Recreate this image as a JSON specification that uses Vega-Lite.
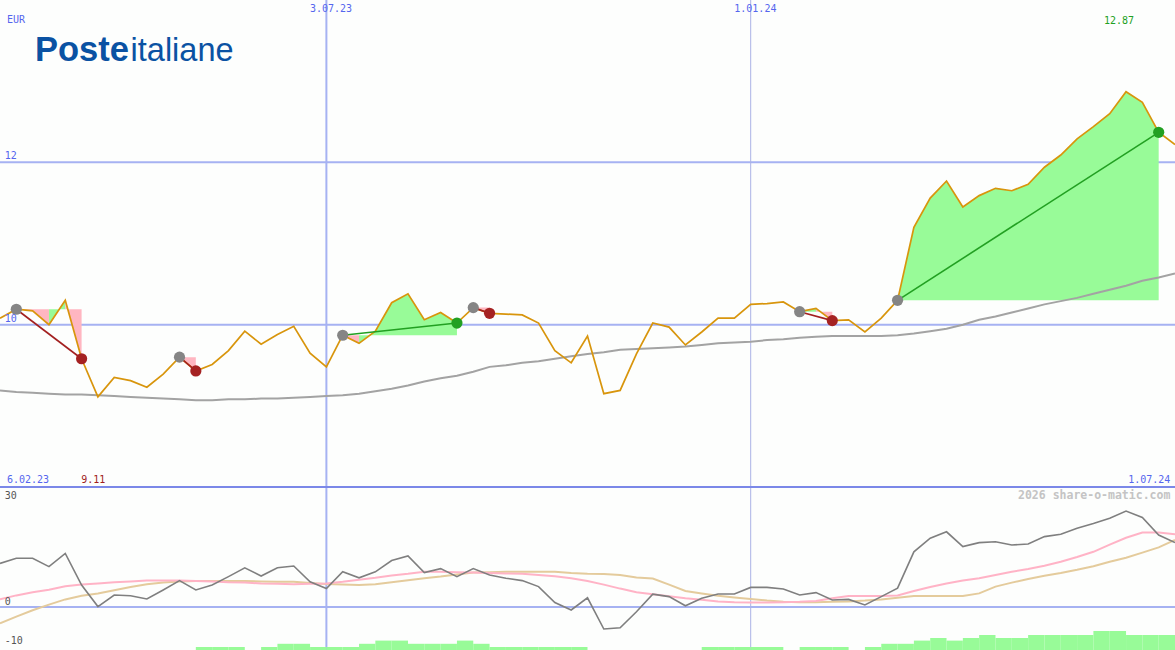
{
  "$schema": "https://vega.github.io/schema/vega-lite/v6.json",
  "background": "#fdfefd",
  "padding": 0,
  "autosize": {"type": "none"},
  "width": 1175,
  "height": 650,
  "config": {"view": {"stroke": null}},
  "resolve": {"scale": {"y": "independent"}},
  "datasets": {
    "prices": [
      {"d":"2023-02-13","p":10.08,"ma":9.19,"o":10.9,"k":1.9,"t":-4.1},
      {"d":"2023-02-20","p":10.19,"ma":9.17,"o":12.2,"k":2.9,"t":-2.4},
      {"d":"2023-02-27","p":10.17,"ma":9.16,"o":12.2,"k":3.7,"t":-0.8},
      {"d":"2023-03-06","p":10.00,"ma":9.15,"o":10.1,"k":4.3,"t":0.6},
      {"d":"2023-03-13","p":10.30,"ma":9.14,"o":13.4,"k":5.2,"t":1.9},
      {"d":"2023-03-20","p":9.58,"ma":9.14,"o":5.5,"k":5.6,"t":2.8},
      {"d":"2023-03-27","p":9.11,"ma":9.13,"o":0.1,"k":5.9,"t":3.4},
      {"d":"2023-04-03","p":9.35,"ma":9.12,"o":3.0,"k":6.2,"t":4.2},
      {"d":"2023-04-10","p":9.31,"ma":9.11,"o":2.8,"k":6.4,"t":5.0},
      {"d":"2023-04-17","p":9.23,"ma":9.10,"o":2.0,"k":6.6,"t":5.7},
      {"d":"2023-04-24","p":9.39,"ma":9.09,"o":4.25,"k":6.6,"t":6.1},
      {"d":"2023-05-01","p":9.60,"ma":9.08,"o":6.6,"k":6.6,"t":6.4},
      {"d":"2023-05-08","p":9.43,"ma":9.07,"o":4.25,"k":6.5,"t":6.5},
      {"d":"2023-05-15","p":9.51,"ma":9.07,"o":5.5,"k":6.4,"t":6.5},
      {"d":"2023-05-22","p":9.68,"ma":9.08,"o":7.6,"k":6.2,"t":6.5},
      {"d":"2023-05-29","p":9.92,"ma":9.08,"o":9.8,"k":6.1,"t":6.5},
      {"d":"2023-06-05","p":9.76,"ma":9.09,"o":7.75,"k":5.9,"t":6.4},
      {"d":"2023-06-12","p":9.88,"ma":9.09,"o":9.8,"k":5.8,"t":6.3},
      {"d":"2023-06-19","p":9.98,"ma":9.10,"o":10.25,"k":5.7,"t":6.3},
      {"d":"2023-06-26","p":9.65,"ma":9.11,"o":6.3,"k":5.8,"t":6.0},
      {"d":"2023-07-03","p":9.48,"ma":9.12,"o":4.6,"k":5.9,"t":5.75},
      {"d":"2023-07-10","p":9.87,"ma":9.13,"o":8.8,"k":6.3,"t":5.6},
      {"d":"2023-07-17","p":9.77,"ma":9.15,"o":7.3,"k":6.8,"t":5.5},
      {"d":"2023-07-24","p":9.92,"ma":9.18,"o":8.8,"k":7.3,"t":5.7},
      {"d":"2023-07-31","p":10.27,"ma":9.21,"o":11.6,"k":7.9,"t":6.2},
      {"d":"2023-08-07","p":10.38,"ma":9.25,"o":12.75,"k":8.3,"t":6.7},
      {"d":"2023-08-14","p":10.06,"ma":9.30,"o":8.6,"k":8.8,"t":7.2},
      {"d":"2023-08-21","p":10.15,"ma":9.34,"o":9.6,"k":8.8,"t":7.6},
      {"d":"2023-08-28","p":10.02,"ma":9.37,"o":7.6,"k":8.7,"t":8.1},
      {"d":"2023-09-04","p":10.21,"ma":9.42,"o":9.6,"k":8.6,"t":8.6},
      {"d":"2023-09-11","p":10.14,"ma":9.48,"o":8.0,"k":8.5,"t":8.7},
      {"d":"2023-09-18","p":10.13,"ma":9.50,"o":7.2,"k":8.4,"t":8.8},
      {"d":"2023-09-25","p":10.12,"ma":9.53,"o":6.6,"k":8.3,"t":8.8},
      {"d":"2023-10-02","p":10.02,"ma":9.55,"o":5.1,"k":8.0,"t":8.8},
      {"d":"2023-10-09","p":9.68,"ma":9.58,"o":1.1,"k":7.7,"t":8.8},
      {"d":"2023-10-16","p":9.53,"ma":9.61,"o":-0.75,"k":7.2,"t":8.5},
      {"d":"2023-10-23","p":9.86,"ma":9.64,"o":2.3,"k":6.5,"t":8.3},
      {"d":"2023-10-30","p":9.15,"ma":9.66,"o":-5.5,"k":5.6,"t":8.25},
      {"d":"2023-11-06","p":9.19,"ma":9.69,"o":-5.2,"k":4.6,"t":8.0},
      {"d":"2023-11-13","p":9.64,"ma":9.70,"o":-1.2,"k":3.7,"t":7.4},
      {"d":"2023-11-20","p":10.02,"ma":9.71,"o":3.2,"k":3.2,"t":7.1},
      {"d":"2023-11-27","p":9.97,"ma":9.72,"o":2.6,"k":2.7,"t":5.6},
      {"d":"2023-12-04","p":9.75,"ma":9.73,"o":0.3,"k":2.2,"t":4.0},
      {"d":"2023-12-11","p":9.91,"ma":9.75,"o":2.2,"k":1.8,"t":3.4},
      {"d":"2023-12-18","p":10.08,"ma":9.77,"o":3.25,"k":1.4,"t":2.8},
      {"d":"2023-12-25","p":10.08,"ma":9.78,"o":3.25,"k":1.2,"t":2.4},
      {"d":"2024-01-01","p":10.25,"ma":9.79,"o":4.9,"k":1.1,"t":2.0},
      {"d":"2024-01-08","p":10.26,"ma":9.81,"o":4.9,"k":1.1,"t":1.6},
      {"d":"2024-01-15","p":10.28,"ma":9.82,"o":4.5,"k":1.2,"t":1.3},
      {"d":"2024-01-22","p":10.16,"ma":9.84,"o":3.0,"k":1.3,"t":1.2},
      {"d":"2024-01-29","p":10.20,"ma":9.85,"o":3.6,"k":1.5,"t":1.2},
      {"d":"2024-02-05","p":10.05,"ma":9.86,"o":1.75,"k":2.2,"t":1.3},
      {"d":"2024-02-12","p":10.06,"ma":9.86,"o":1.9,"k":2.75,"t":1.4},
      {"d":"2024-02-19","p":9.91,"ma":9.86,"o":0.5,"k":2.75,"t":1.6},
      {"d":"2024-02-26","p":10.08,"ma":9.86,"o":2.6,"k":2.75,"t":1.9},
      {"d":"2024-03-04","p":10.30,"ma":9.87,"o":4.7,"k":2.9,"t":2.3},
      {"d":"2024-03-11","p":11.20,"ma":9.89,"o":13.8,"k":4.0,"t":2.75},
      {"d":"2024-03-18","p":11.56,"ma":9.92,"o":17.2,"k":5.0,"t":2.75},
      {"d":"2024-03-25","p":11.77,"ma":9.95,"o":18.8,"k":5.9,"t":2.75},
      {"d":"2024-04-01","p":11.45,"ma":10.00,"o":15.1,"k":6.6,"t":2.75},
      {"d":"2024-04-08","p":11.59,"ma":10.06,"o":16.1,"k":7.2,"t":3.4},
      {"d":"2024-04-15","p":11.68,"ma":10.10,"o":16.3,"k":8.0,"t":5.1},
      {"d":"2024-04-22","p":11.65,"ma":10.15,"o":15.5,"k":8.8,"t":6.1},
      {"d":"2024-04-29","p":11.73,"ma":10.20,"o":15.75,"k":9.5,"t":7.0},
      {"d":"2024-05-06","p":11.94,"ma":10.25,"o":17.6,"k":10.3,"t":7.8},
      {"d":"2024-05-13","p":12.09,"ma":10.29,"o":18.2,"k":11.3,"t":8.5},
      {"d":"2024-05-20","p":12.29,"ma":10.33,"o":19.7,"k":12.5,"t":9.3},
      {"d":"2024-05-27","p":12.44,"ma":10.38,"o":20.9,"k":13.8,"t":10.2},
      {"d":"2024-06-03","p":12.60,"ma":10.43,"o":22.2,"k":15.6,"t":11.3},
      {"d":"2024-06-10","p":12.87,"ma":10.48,"o":24.0,"k":17.3,"t":12.3},
      {"d":"2024-06-17","p":12.74,"ma":10.54,"o":22.4,"k":18.6,"t":13.6},
      {"d":"2024-06-24","p":12.37,"ma":10.58,"o":18.0,"k":18.6,"t":14.9},
      {"d":"2024-07-01","p":12.22,"ma":10.63,"o":16.1,"k":18.2,"t":16.75}
    ],
    "fills": [
      {"r":"A","dir":"down","d":"2023-02-20","p":10.19,"e":10.19},
      {"r":"A","dir":"down","d":"2023-02-27","p":10.17,"e":10.19},
      {"r":"A","dir":"down","d":"2023-03-06","p":10.00,"e":10.19},
      {"r":"B","dir":"up","d":"2023-03-06","p":10.00,"e":10.19},
      {"r":"B","dir":"up","d":"2023-03-13","p":10.30,"e":10.19},
      {"r":"C","dir":"down","d":"2023-03-13","p":10.30,"e":10.19},
      {"r":"C","dir":"down","d":"2023-03-20","p":9.58,"e":10.19},
      {"r":"D","dir":"down","d":"2023-05-01","p":9.60,"e":9.60},
      {"r":"D","dir":"down","d":"2023-05-08","p":9.43,"e":9.60},
      {"r":"E","dir":"down","d":"2023-07-10","p":9.87,"e":9.87},
      {"r":"E","dir":"down","d":"2023-07-17","p":9.77,"e":9.87},
      {"r":"F","dir":"up","d":"2023-07-17","p":9.77,"e":9.87},
      {"r":"F","dir":"up","d":"2023-07-24","p":9.92,"e":9.87},
      {"r":"F","dir":"up","d":"2023-07-31","p":10.27,"e":9.87},
      {"r":"F","dir":"up","d":"2023-08-07","p":10.38,"e":9.87},
      {"r":"F","dir":"up","d":"2023-08-14","p":10.06,"e":9.87},
      {"r":"F","dir":"up","d":"2023-08-21","p":10.15,"e":9.87},
      {"r":"F","dir":"up","d":"2023-08-28","p":10.02,"e":9.87},
      {"r":"G","dir":"down","d":"2023-09-04","p":10.21,"e":10.21},
      {"r":"G","dir":"down","d":"2023-09-11","p":10.14,"e":10.21},
      {"r":"H","dir":"up","d":"2024-01-22","p":10.16,"e":10.16},
      {"r":"H","dir":"up","d":"2024-01-29","p":10.20,"e":10.16},
      {"r":"I","dir":"down","d":"2024-01-29","p":10.20,"e":10.16},
      {"r":"I","dir":"down","d":"2024-02-05","p":10.05,"e":10.16},
      {"r":"J","dir":"up","d":"2024-03-04","p":10.30,"e":10.30},
      {"r":"J","dir":"up","d":"2024-03-11","p":11.20,"e":10.30},
      {"r":"J","dir":"up","d":"2024-03-18","p":11.56,"e":10.30},
      {"r":"J","dir":"up","d":"2024-03-25","p":11.77,"e":10.30},
      {"r":"J","dir":"up","d":"2024-04-01","p":11.45,"e":10.30},
      {"r":"J","dir":"up","d":"2024-04-08","p":11.59,"e":10.30},
      {"r":"J","dir":"up","d":"2024-04-15","p":11.68,"e":10.30},
      {"r":"J","dir":"up","d":"2024-04-22","p":11.65,"e":10.30},
      {"r":"J","dir":"up","d":"2024-04-29","p":11.73,"e":10.30},
      {"r":"J","dir":"up","d":"2024-05-06","p":11.94,"e":10.30},
      {"r":"J","dir":"up","d":"2024-05-13","p":12.09,"e":10.30},
      {"r":"J","dir":"up","d":"2024-05-20","p":12.29,"e":10.30},
      {"r":"J","dir":"up","d":"2024-05-27","p":12.44,"e":10.30},
      {"r":"J","dir":"up","d":"2024-06-03","p":12.60,"e":10.30},
      {"r":"J","dir":"up","d":"2024-06-10","p":12.87,"e":10.30},
      {"r":"J","dir":"up","d":"2024-06-17","p":12.74,"e":10.30},
      {"r":"J","dir":"up","d":"2024-06-24","p":12.37,"e":10.30}
    ],
    "trades": [
      {"t":1,"role":"entry","res":"loss","d":"2023-02-20","v":10.19},
      {"t":1,"role":"exit","res":"loss","d":"2023-03-20","v":9.58},
      {"t":2,"role":"entry","res":"loss","d":"2023-05-01","v":9.60},
      {"t":2,"role":"exit","res":"loss","d":"2023-05-08","v":9.43},
      {"t":3,"role":"entry","res":"win","d":"2023-07-10","v":9.87},
      {"t":3,"role":"exit","res":"win","d":"2023-08-28","v":10.02},
      {"t":4,"role":"entry","res":"loss","d":"2023-09-04","v":10.21},
      {"t":4,"role":"exit","res":"loss","d":"2023-09-11","v":10.14},
      {"t":5,"role":"entry","res":"loss","d":"2024-01-22","v":10.16},
      {"t":5,"role":"exit","res":"loss","d":"2024-02-05","v":10.05},
      {"t":6,"role":"entry","res":"win","d":"2024-03-04","v":10.30},
      {"t":6,"role":"exit","res":"win","d":"2024-06-24","v":12.37}
    ],
    "bars": [
      {"d":"2023-05-08","d2":"2023-05-15","b":-10.0},
      {"d":"2023-05-15","d2":"2023-05-22","b":-10.0},
      {"d":"2023-05-22","d2":"2023-05-29","b":-10.0},
      {"d":"2023-06-05","d2":"2023-06-12","b":-10.0},
      {"d":"2023-06-12","d2":"2023-06-19","b":-9.2},
      {"d":"2023-06-19","d2":"2023-06-26","b":-9.2},
      {"d":"2023-06-26","d2":"2023-07-03","b":-10.0},
      {"d":"2023-07-03","d2":"2023-07-10","b":-10.0},
      {"d":"2023-07-10","d2":"2023-07-17","b":-10.0},
      {"d":"2023-07-17","d2":"2023-07-24","b":-9.2},
      {"d":"2023-07-24","d2":"2023-07-31","b":-8.4},
      {"d":"2023-07-31","d2":"2023-08-07","b":-8.4},
      {"d":"2023-08-07","d2":"2023-08-14","b":-9.2},
      {"d":"2023-08-14","d2":"2023-08-21","b":-9.2},
      {"d":"2023-08-21","d2":"2023-08-28","b":-9.2},
      {"d":"2023-08-28","d2":"2023-09-04","b":-8.4},
      {"d":"2023-09-04","d2":"2023-09-11","b":-9.2},
      {"d":"2023-09-11","d2":"2023-09-18","b":-10.0},
      {"d":"2023-09-18","d2":"2023-09-25","b":-10.0},
      {"d":"2023-09-25","d2":"2023-10-02","b":-10.0},
      {"d":"2023-10-02","d2":"2023-10-09","b":-10.0},
      {"d":"2023-10-09","d2":"2023-10-16","b":-10.0},
      {"d":"2023-10-16","d2":"2023-10-23","b":-10.0},
      {"d":"2023-12-11","d2":"2023-12-18","b":-10.0},
      {"d":"2023-12-18","d2":"2023-12-25","b":-10.0},
      {"d":"2023-12-25","d2":"2024-01-01","b":-10.0},
      {"d":"2024-01-01","d2":"2024-01-08","b":-10.0},
      {"d":"2024-01-08","d2":"2024-01-15","b":-10.0},
      {"d":"2024-01-22","d2":"2024-01-29","b":-10.0},
      {"d":"2024-01-29","d2":"2024-02-05","b":-10.0},
      {"d":"2024-02-05","d2":"2024-02-12","b":-10.0},
      {"d":"2024-02-19","d2":"2024-02-26","b":-10.0},
      {"d":"2024-02-26","d2":"2024-03-04","b":-9.2},
      {"d":"2024-03-04","d2":"2024-03-11","b":-9.2},
      {"d":"2024-03-11","d2":"2024-03-18","b":-8.4},
      {"d":"2024-03-18","d2":"2024-03-25","b":-7.75},
      {"d":"2024-03-25","d2":"2024-04-01","b":-8.4},
      {"d":"2024-04-01","d2":"2024-04-08","b":-7.75},
      {"d":"2024-04-08","d2":"2024-04-15","b":-7.0},
      {"d":"2024-04-15","d2":"2024-04-22","b":-7.75},
      {"d":"2024-04-22","d2":"2024-04-29","b":-7.75},
      {"d":"2024-04-29","d2":"2024-05-06","b":-7.0},
      {"d":"2024-05-06","d2":"2024-05-13","b":-7.0},
      {"d":"2024-05-13","d2":"2024-05-20","b":-7.0},
      {"d":"2024-05-20","d2":"2024-05-27","b":-7.0},
      {"d":"2024-05-27","d2":"2024-06-03","b":-6.0},
      {"d":"2024-06-03","d2":"2024-06-10","b":-6.0},
      {"d":"2024-06-10","d2":"2024-06-17","b":-7.0},
      {"d":"2024-06-17","d2":"2024-06-24","b":-7.0},
      {"d":"2024-06-24","d2":"2024-07-01","b":-7.0}
    ],
    "toplabels": [
      {"g":"axisL","d":"2023-02-16","v":13.753,"txt":"EUR"},
      {"g":"axisL","d":"2023-02-15","v":12.074,"txt":"12"},
      {"g":"axisL","d":"2023-02-15","v":10.074,"txt":"10"},
      {"g":"axisL","d":"2023-02-16","v":8.086,"txt":"6.02.23"},
      {"g":"axisC","d":"2023-07-05","v":13.889,"txt":"3.07.23"},
      {"g":"axisC","d":"2024-01-03","v":13.889,"txt":"1.01.24"},
      {"g":"axisR","d":"2024-06-29","v":8.086,"txt":"1.07.24"},
      {"g":"high","d":"2024-06-07","v":13.741,"txt":"12.87"},
      {"g":"low","d":"2023-03-25","v":8.086,"txt":"9.11"}
    ],
    "botlabels": [
      {"g":"scale","d":"2023-02-15","v":27.75,"txt":"30"},
      {"g":"scale","d":"2023-02-15","v":1.25,"txt":"0"},
      {"g":"scale","d":"2023-02-15","v":-8.5,"txt":"-10"},
      {"g":"credit","d":"2024-06-29","v":27.75,"txt":"2026 share-o-matic.com"}
    ],
    "logo": [
      {"part":"bold","d":"2023-02-28","v":13.247,"txt":"Poste"},
      {"part":"regular","d":"2023-04-10","v":13.247,"txt":"italiane"}
    ]
  },
  "layer": [
    {
      "data": {"values": [{"v": 12}, {"v": 10}]},
      "mark": {"type": "rule", "color": "#a6b2f2", "strokeWidth": 2},
      "encoding": {"y": {"field": "v", "type": "quantitative", "scale": {"domain": [8, 14], "range": [487, 0], "nice": false, "zero": false}, "axis": null}}
    },
    {
      "data": {"values": [{"v": 0}]},
      "mark": {"type": "rule", "color": "#a6b2f2", "strokeWidth": 2},
      "encoding": {"y": {"field": "v", "type": "quantitative", "scale": {"domain": [-10.75, 30], "range": [650, 487], "nice": false, "zero": false}, "axis": null}}
    },
    {
      "data": {"values": [{"d": "2023-07-03"}]},
      "mark": {"type": "rule", "color": "#a6b2f2", "strokeWidth": 2},
      "encoding": {"x": {"field": "d", "type": "temporal", "scale": {"type": "utc", "domain": [{"year": 2023, "month": 2, "date": 13, "utc": true}, {"year": 2024, "month": 7, "date": 1, "utc": true}]}, "axis": null}}
    },
    {
      "data": {"values": [{"d": "2024-01-01"}]},
      "mark": {"type": "rule", "color": "#aab2e6", "strokeWidth": 1},
      "encoding": {"x": {"field": "d", "type": "temporal", "scale": {"type": "utc", "domain": [{"year": 2023, "month": 2, "date": 13, "utc": true}, {"year": 2024, "month": 7, "date": 1, "utc": true}]}, "axis": null}}
    },
    {
      "data": {"values": [{"v": 8.0}]},
      "mark": {"type": "rule", "color": "#7b88e8", "strokeWidth": 2},
      "encoding": {"y": {"field": "v", "type": "quantitative", "scale": {"domain": [8, 14], "range": [487, 0], "nice": false, "zero": false}, "axis": null}}
    },
    {
      "data": {"name": "fills"},
      "mark": {"type": "area", "opacity": 1},
      "encoding": {
        "x": {"field": "d", "type": "temporal", "scale": {"type": "utc", "domain": [{"year": 2023, "month": 2, "date": 13, "utc": true}, {"year": 2024, "month": 7, "date": 1, "utc": true}]}, "axis": null},
        "y": {"field": "p", "type": "quantitative", "scale": {"domain": [8, 14], "range": [487, 0], "nice": false, "zero": false}, "axis": null},
        "y2": {"field": "e"},
        "detail": {"field": "r", "type": "nominal"},
        "color": {"condition": {"test": "datum.dir === 'up'", "value": "#98fb98"}, "value": "#ffb6c1"}
      }
    },
    {
      "data": {"name": "prices"},
      "mark": {"type": "line", "color": "#a3a3a3", "strokeWidth": 2},
      "encoding": {
        "x": {"field": "d", "type": "temporal", "scale": {"type": "utc", "domain": [{"year": 2023, "month": 2, "date": 13, "utc": true}, {"year": 2024, "month": 7, "date": 1, "utc": true}]}, "axis": null},
        "y": {"field": "ma", "type": "quantitative", "scale": {"domain": [8, 14], "range": [487, 0], "nice": false, "zero": false}, "axis": null}
      }
    },
    {
      "data": {"name": "prices"},
      "mark": {"type": "line", "color": "#d8950c", "strokeWidth": 1.7},
      "encoding": {
        "x": {"field": "d", "type": "temporal", "scale": {"type": "utc", "domain": [{"year": 2023, "month": 2, "date": 13, "utc": true}, {"year": 2024, "month": 7, "date": 1, "utc": true}]}, "axis": null},
        "y": {"field": "p", "type": "quantitative", "scale": {"domain": [8, 14], "range": [487, 0], "nice": false, "zero": false}, "axis": null}
      }
    },
    {
      "data": {"name": "trades"},
      "mark": {"type": "line", "strokeWidth": 1.6},
      "encoding": {
        "x": {"field": "d", "type": "temporal", "scale": {"type": "utc", "domain": [{"year": 2023, "month": 2, "date": 13, "utc": true}, {"year": 2024, "month": 7, "date": 1, "utc": true}]}, "axis": null},
        "y": {"field": "v", "type": "quantitative", "scale": {"domain": [8, 14], "range": [487, 0], "nice": false, "zero": false}, "axis": null},
        "detail": {"field": "t", "type": "nominal"},
        "color": {"condition": {"test": "datum.res === 'win'", "value": "#22a022"}, "value": "#a32020"}
      }
    },
    {
      "data": {"name": "trades"},
      "transform": [{"filter": "datum.role === 'entry'"}],
      "mark": {"type": "circle", "size": 125, "opacity": 1, "color": "#858585"},
      "encoding": {
        "x": {"field": "d", "type": "temporal", "scale": {"type": "utc", "domain": [{"year": 2023, "month": 2, "date": 13, "utc": true}, {"year": 2024, "month": 7, "date": 1, "utc": true}]}, "axis": null},
        "y": {"field": "v", "type": "quantitative", "scale": {"domain": [8, 14], "range": [487, 0], "nice": false, "zero": false}, "axis": null}
      }
    },
    {
      "data": {"name": "trades"},
      "transform": [{"filter": "datum.role === 'exit'"}],
      "mark": {"type": "circle", "size": 125, "opacity": 1},
      "encoding": {
        "x": {"field": "d", "type": "temporal", "scale": {"type": "utc", "domain": [{"year": 2023, "month": 2, "date": 13, "utc": true}, {"year": 2024, "month": 7, "date": 1, "utc": true}]}, "axis": null},
        "y": {"field": "v", "type": "quantitative", "scale": {"domain": [8, 14], "range": [487, 0], "nice": false, "zero": false}, "axis": null},
        "color": {"condition": {"test": "datum.res === 'win'", "value": "#22a022"}, "value": "#a52222"}
      }
    },
    {
      "data": {"name": "bars"},
      "mark": {"type": "rect", "color": "#98fb98"},
      "encoding": {
        "x": {"field": "d", "type": "temporal", "scale": {"type": "utc", "domain": [{"year": 2023, "month": 2, "date": 13, "utc": true}, {"year": 2024, "month": 7, "date": 1, "utc": true}]}, "axis": null},
        "x2": {"field": "d2"},
        "y": {"field": "b", "type": "quantitative", "scale": {"domain": [-10.75, 30], "range": [650, 487], "nice": false, "zero": false}, "axis": null},
        "y2": {"datum": -10.75}
      }
    },
    {
      "data": {"name": "prices"},
      "mark": {"type": "line", "color": "#e4cb9c", "strokeWidth": 2},
      "encoding": {
        "x": {"field": "d", "type": "temporal", "scale": {"type": "utc", "domain": [{"year": 2023, "month": 2, "date": 13, "utc": true}, {"year": 2024, "month": 7, "date": 1, "utc": true}]}, "axis": null},
        "y": {"field": "t", "type": "quantitative", "scale": {"domain": [-10.75, 30], "range": [650, 487], "nice": false, "zero": false}, "axis": null}
      }
    },
    {
      "data": {"name": "prices"},
      "mark": {"type": "line", "color": "#ffb3c6", "strokeWidth": 2},
      "encoding": {
        "x": {"field": "d", "type": "temporal", "scale": {"type": "utc", "domain": [{"year": 2023, "month": 2, "date": 13, "utc": true}, {"year": 2024, "month": 7, "date": 1, "utc": true}]}, "axis": null},
        "y": {"field": "k", "type": "quantitative", "scale": {"domain": [-10.75, 30], "range": [650, 487], "nice": false, "zero": false}, "axis": null}
      }
    },
    {
      "data": {"name": "prices"},
      "mark": {"type": "line", "color": "#7f7f7f", "strokeWidth": 1.6},
      "encoding": {
        "x": {"field": "d", "type": "temporal", "scale": {"type": "utc", "domain": [{"year": 2023, "month": 2, "date": 13, "utc": true}, {"year": 2024, "month": 7, "date": 1, "utc": true}]}, "axis": null},
        "y": {"field": "o", "type": "quantitative", "scale": {"domain": [-10.75, 30], "range": [650, 487], "nice": false, "zero": false}, "axis": null}
      }
    },
    {
      "data": {"name": "toplabels"},
      "transform": [{"filter": "datum.g === 'axisL'"}],
      "mark": {"type": "text", "align": "left", "baseline": "middle", "font": "DejaVu Sans Mono", "fontSize": 10, "color": "#5566ee"},
      "encoding": {
        "x": {"field": "d", "type": "temporal", "scale": {"type": "utc", "domain": [{"year": 2023, "month": 2, "date": 13, "utc": true}, {"year": 2024, "month": 7, "date": 1, "utc": true}]}, "axis": null},
        "y": {"field": "v", "type": "quantitative", "scale": {"domain": [8, 14], "range": [487, 0], "nice": false, "zero": false}, "axis": null},
        "text": {"field": "txt"}
      }
    },
    {
      "data": {"name": "toplabels"},
      "transform": [{"filter": "datum.g === 'axisC'"}],
      "mark": {"type": "text", "align": "center", "baseline": "middle", "font": "DejaVu Sans Mono", "fontSize": 10, "color": "#5566ee"},
      "encoding": {
        "x": {"field": "d", "type": "temporal", "scale": {"type": "utc", "domain": [{"year": 2023, "month": 2, "date": 13, "utc": true}, {"year": 2024, "month": 7, "date": 1, "utc": true}]}, "axis": null},
        "y": {"field": "v", "type": "quantitative", "scale": {"domain": [8, 14], "range": [487, 0], "nice": false, "zero": false}, "axis": null},
        "text": {"field": "txt"}
      }
    },
    {
      "data": {"name": "toplabels"},
      "transform": [{"filter": "datum.g === 'axisR'"}],
      "mark": {"type": "text", "align": "right", "baseline": "middle", "font": "DejaVu Sans Mono", "fontSize": 10, "color": "#5566ee"},
      "encoding": {
        "x": {"field": "d", "type": "temporal", "scale": {"type": "utc", "domain": [{"year": 2023, "month": 2, "date": 13, "utc": true}, {"year": 2024, "month": 7, "date": 1, "utc": true}]}, "axis": null},
        "y": {"field": "v", "type": "quantitative", "scale": {"domain": [8, 14], "range": [487, 0], "nice": false, "zero": false}, "axis": null},
        "text": {"field": "txt"}
      }
    },
    {
      "data": {"name": "toplabels"},
      "transform": [{"filter": "datum.g === 'high' || datum.g === 'low'"}],
      "mark": {"type": "text", "align": "center", "baseline": "middle", "font": "DejaVu Sans Mono", "fontSize": 10},
      "encoding": {
        "x": {"field": "d", "type": "temporal", "scale": {"type": "utc", "domain": [{"year": 2023, "month": 2, "date": 13, "utc": true}, {"year": 2024, "month": 7, "date": 1, "utc": true}]}, "axis": null},
        "y": {"field": "v", "type": "quantitative", "scale": {"domain": [8, 14], "range": [487, 0], "nice": false, "zero": false}, "axis": null},
        "text": {"field": "txt"},
        "color": {"condition": {"test": "datum.g === 'high'", "value": "#22a022"}, "value": "#a01c1c"}
      }
    },
    {
      "data": {"name": "logo"},
      "transform": [{"filter": "datum.part === 'bold'"}],
      "mark": {"type": "text", "align": "left", "baseline": "alphabetic", "font": "Liberation Sans", "fontWeight": "bold", "fontSize": 34.5, "color": "#0a52a3"},
      "encoding": {
        "x": {"field": "d", "type": "temporal", "scale": {"type": "utc", "domain": [{"year": 2023, "month": 2, "date": 13, "utc": true}, {"year": 2024, "month": 7, "date": 1, "utc": true}]}, "axis": null},
        "y": {"field": "v", "type": "quantitative", "scale": {"domain": [8, 14], "range": [487, 0], "nice": false, "zero": false}, "axis": null},
        "text": {"field": "txt"}
      }
    },
    {
      "data": {"name": "logo"},
      "transform": [{"filter": "datum.part === 'regular'"}],
      "mark": {"type": "text", "align": "left", "baseline": "alphabetic", "font": "Liberation Sans", "fontWeight": "normal", "fontSize": 32.5, "color": "#0a52a3"},
      "encoding": {
        "x": {"field": "d", "type": "temporal", "scale": {"type": "utc", "domain": [{"year": 2023, "month": 2, "date": 13, "utc": true}, {"year": 2024, "month": 7, "date": 1, "utc": true}]}, "axis": null},
        "y": {"field": "v", "type": "quantitative", "scale": {"domain": [8, 14], "range": [487, 0], "nice": false, "zero": false}, "axis": null},
        "text": {"field": "txt"}
      }
    },
    {
      "data": {"name": "botlabels"},
      "transform": [{"filter": "datum.g === 'scale'"}],
      "mark": {"type": "text", "align": "left", "baseline": "middle", "font": "DejaVu Sans Mono", "fontSize": 10, "color": "#555555"},
      "encoding": {
        "x": {"field": "d", "type": "temporal", "scale": {"type": "utc", "domain": [{"year": 2023, "month": 2, "date": 13, "utc": true}, {"year": 2024, "month": 7, "date": 1, "utc": true}]}, "axis": null},
        "y": {"field": "v", "type": "quantitative", "scale": {"domain": [-10.75, 30], "range": [650, 487], "nice": false, "zero": false}, "axis": null},
        "text": {"field": "txt"}
      }
    },
    {
      "data": {"name": "botlabels"},
      "transform": [{"filter": "datum.g === 'credit'"}],
      "mark": {"type": "text", "align": "right", "baseline": "middle", "font": "DejaVu Sans Mono", "fontWeight": "bold", "fontSize": 11.5, "color": "#c4c4c4"},
      "encoding": {
        "x": {"field": "d", "type": "temporal", "scale": {"type": "utc", "domain": [{"year": 2023, "month": 2, "date": 13, "utc": true}, {"year": 2024, "month": 7, "date": 1, "utc": true}]}, "axis": null},
        "y": {"field": "v", "type": "quantitative", "scale": {"domain": [-10.75, 30], "range": [650, 487], "nice": false, "zero": false}, "axis": null},
        "text": {"field": "txt"}
      }
    }
  ]
}
